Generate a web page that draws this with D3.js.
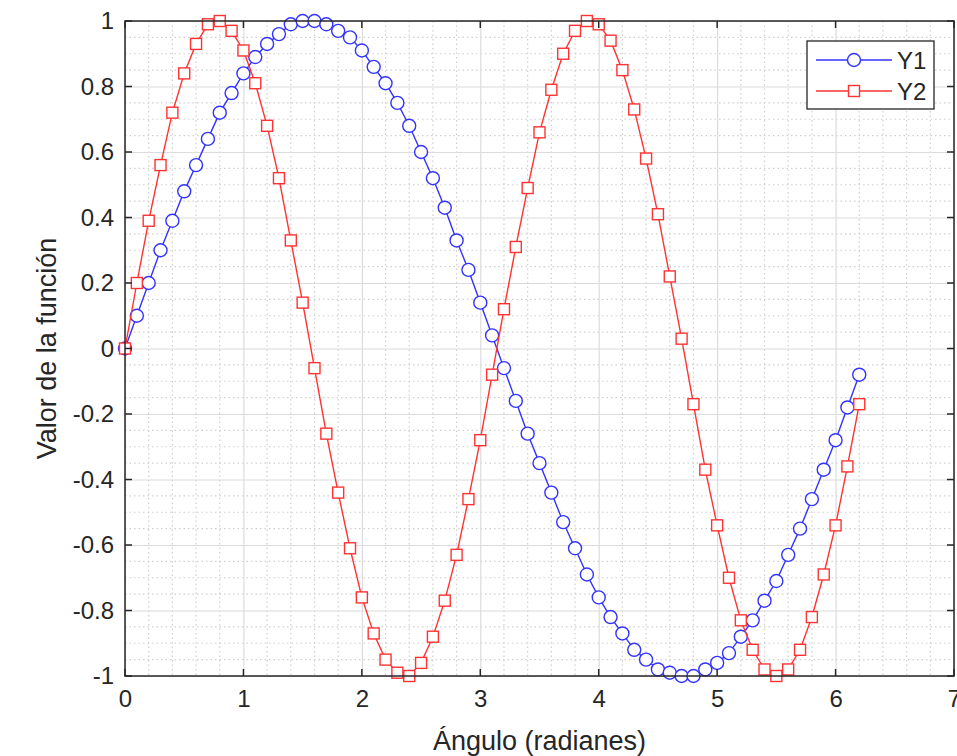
<!DOCTYPE html>
<html lang="es">
  <head>
    <meta charset="UTF-8" />
    <title>Y1 / Y2</title>
    <script src="https://d3js.org/d3.v7.min.js" charset="utf-8"></script>
    <style>
      body { margin: 0; background: #fff; }
      svg text { font-family: "Liberation Sans", Arial, sans-serif; fill: #262626; }
    </style>
  </head>
  <body>
    <div id="chart"></div>
    <script>
      // angle values (radians)
      const angles = [
        0.0, 0.1, 0.2, 0.3, 0.4, 0.5, 0.6, 0.7, 0.8, 0.9,
        1.0, 1.1, 1.2, 1.3, 1.4, 1.5, 1.6, 1.7, 1.8, 1.9,
        2.0, 2.1, 2.2, 2.3, 2.4, 2.5, 2.6, 2.7, 2.8, 2.9,
        3.0, 3.1, 3.2, 3.3, 3.4, 3.5, 3.6, 3.7, 3.8, 3.9,
        4.0, 4.1, 4.2, 4.3, 4.4, 4.5, 4.6, 4.7, 4.8, 4.9,
        5.0, 5.1, 5.2, 5.3, 5.4, 5.5, 5.6, 5.7, 5.8, 5.9,
        6.0, 6.1, 6.2
      ];
      const y1 = [
        0.00, 0.10, 0.20, 0.30, 0.39, 0.48, 0.56, 0.64, 0.72, 0.78,
        0.84, 0.89, 0.93, 0.96, 0.99, 1.00, 1.00, 0.99, 0.97, 0.95,
        0.91, 0.86, 0.81, 0.75, 0.68, 0.60, 0.52, 0.43, 0.33, 0.24,
        0.14, 0.04, -0.06, -0.16, -0.26, -0.35, -0.44, -0.53, -0.61, -0.69,
        -0.76, -0.82, -0.87, -0.92, -0.95, -0.98, -0.99, -1.00, -1.00, -0.98,
        -0.96, -0.93, -0.88, -0.83, -0.77, -0.71, -0.63, -0.55, -0.46, -0.37,
        -0.28, -0.18, -0.08
      ];
      const y2 = [
        0.00, 0.20, 0.39, 0.56, 0.72, 0.84, 0.93, 0.99, 1.00, 0.97,
        0.91, 0.81, 0.68, 0.52, 0.33, 0.14, -0.06, -0.26, -0.44, -0.61,
        -0.76, -0.87, -0.95, -0.99, -1.00, -0.96, -0.88, -0.77, -0.63, -0.46,
        -0.28, -0.08, 0.12, 0.31, 0.49, 0.66, 0.79, 0.90, 0.97, 1.00,
        0.99, 0.94, 0.85, 0.73, 0.58, 0.41, 0.22, 0.03, -0.17, -0.37,
        -0.54, -0.70, -0.83, -0.92, -0.98, -1.00, -0.98, -0.92, -0.82, -0.69,
        -0.54, -0.36, -0.17
      ];
      const xTicks = [0, 1, 2, 3, 4, 5, 6, 7];
      const yTicks = [-1, -0.8, -0.6, -0.4, -0.2, 0, 0.2, 0.4, 0.6, 0.8, 1];
      const seriesNames = ["Y1", "Y2"];

      const width = 957;
      const height = 756;
      const padL = 125, padR = 954, padT = 21, padB = 676;
      const ink = "#262626";

      const x = d3.scaleLinear().domain([0, 7]).range([padL, padR]);
      const y = d3.scaleLinear().domain([-1, 1]).range([padB, padT]);

      const svg = d3.select("#chart").append("svg")
        .attr("width", width)
        .attr("height", height);

      // minor grid (dotted)
      const grid = svg.append("g");
      grid.selectAll(".mx")
        .data(d3.range(0, 35).map(i => i * 0.2).filter(v => Math.abs(v - Math.round(v)) > 1e-6))
        .enter().append("line")
        .attr("x1", d => x(d)).attr("x2", d => x(d))
        .attr("y1", padT).attr("y2", padB)
        .attr("stroke", "#cfcfcf").attr("stroke-width", 1.2)
        .attr("stroke-dasharray", "1.5,3");
      grid.selectAll(".my")
        .data(d3.range(0, 41).map(i => -1 + i * 0.05).filter(v => Math.abs(v * 5 - Math.round(v * 5)) > 1e-6))
        .enter().append("line")
        .attr("y1", d => y(d)).attr("y2", d => y(d))
        .attr("x1", padL).attr("x2", padR)
        .attr("stroke", "#cfcfcf").attr("stroke-width", 1.2)
        .attr("stroke-dasharray", "1.5,3");

      // major grid
      const xAxisGrid = d3.axisBottom(x).tickValues(xTicks).tickSize(-(padB - padT)).tickFormat("");
      const yAxisGrid = d3.axisLeft(y).tickValues(yTicks).tickSize(-(padR - padL)).tickFormat("");
      svg.append("g").attr("transform", `translate(0,${padB})`).call(xAxisGrid)
        .call(g => g.select(".domain").remove())
        .call(g => g.selectAll("line").attr("stroke", "#dcdcdc").attr("stroke-width", 1.2));
      svg.append("g").attr("transform", `translate(${padL},0)`).call(yAxisGrid)
        .call(g => g.select(".domain").remove())
        .call(g => g.selectAll("line").attr("stroke", "#dcdcdc").attr("stroke-width", 1.2));

      // series
      const line = d3.line().x((d, i) => x(angles[i])).y(d => y(d));

      function drawSeries(vals, color, shape) {
        const g = svg.append("g");
        g.append("path").datum(vals)
          .attr("d", line)
          .attr("fill", "none")
          .attr("stroke", color)
          .attr("stroke-width", 1.4);
        const pts = vals.map((v, i) => [x(angles[i]), y(v)]);
        if (shape === "circle") {
          g.selectAll("circle").data(pts).enter().append("circle")
            .attr("cx", d => d[0]).attr("cy", d => d[1]).attr("r", 6.5)
            .attr("fill", "#fff").attr("stroke", color).attr("stroke-width", 1.4);
        } else {
          g.selectAll("rect").data(pts).enter().append("rect")
            .attr("x", d => d[0] - 5.5).attr("y", d => d[1] - 5.5)
            .attr("width", 11).attr("height", 11)
            .attr("fill", "#fff").attr("stroke", color).attr("stroke-width", 1.4);
        }
      }
      drawSeries(y1, "#3333ff", "circle");
      drawSeries(y2, "#ff3333", "square");

      // box + ticks
      svg.append("rect")
        .attr("x", padL).attr("y", padT)
        .attr("width", padR - padL).attr("height", padB - padT)
        .attr("fill", "none").attr("stroke", ink).attr("stroke-width", 1.5);

      const xAxis = d3.axisBottom(x).tickValues(xTicks).tickSize(0).tickPadding(14).tickFormat(d3.format("d"));
      const yAxis = d3.axisLeft(y).tickValues(yTicks).tickSize(0).tickPadding(11).tickFormat(d => String(+d.toFixed(1)));

      svg.append("g").attr("transform", `translate(0,${padB})`).call(xAxis)
        .call(g => g.select(".domain").remove())
        .call(g => g.selectAll("text").attr("font-size", 24).attr("fill", ink));
      svg.append("g").attr("transform", `translate(${padL},0)`).call(yAxis)
        .call(g => g.select(".domain").remove())
        .call(g => g.selectAll("text").attr("font-size", 24).attr("fill", ink));

      // inward tick marks on all four sides
      const tk = svg.append("g").attr("stroke", ink).attr("stroke-width", 1.5);
      xTicks.forEach(t => {
        tk.append("line").attr("x1", x(t)).attr("x2", x(t)).attr("y1", padB).attr("y2", padB - 7);
        tk.append("line").attr("x1", x(t)).attr("x2", x(t)).attr("y1", padT).attr("y2", padT + 7);
      });
      yTicks.forEach(t => {
        tk.append("line").attr("y1", y(t)).attr("y2", y(t)).attr("x1", padL).attr("x2", padL + 7);
        tk.append("line").attr("y1", y(t)).attr("y2", y(t)).attr("x1", padR).attr("x2", padR - 7);
      });

      // axis labels
      svg.append("text")
        .attr("x", (padL + padR) / 2).attr("y", 750)
        .attr("text-anchor", "middle").attr("font-size", 27)
        .text("Ángulo (radianes)");
      svg.append("text")
        .attr("transform", `translate(56,${(padT + padB) / 2}) rotate(-90)`)
        .attr("text-anchor", "middle").attr("font-size", 27)
        .text("Valor de la función");

      // legend
      const lg = svg.append("g");
      lg.append("rect")
        .attr("x", 807).attr("y", 41).attr("width", 127).attr("height", 68)
        .attr("fill", "#fff").attr("stroke", ink).attr("stroke-width", 1.3);
      const legendColors = ["#3333ff", "#ff3333"];
      seriesNames.forEach((name, i) => {
        const cy = 60 + i * 31;
        lg.append("line").attr("x1", 816).attr("x2", 892).attr("y1", cy).attr("y2", cy)
          .attr("stroke", legendColors[i]).attr("stroke-width", 1.4);
        if (i === 0) {
          lg.append("circle").attr("cx", 854).attr("cy", cy).attr("r", 6.5)
            .attr("fill", "#fff").attr("stroke", legendColors[i]).attr("stroke-width", 1.4);
        } else {
          lg.append("rect").attr("x", 848.5).attr("y", cy - 5.5).attr("width", 11).attr("height", 11)
            .attr("fill", "#fff").attr("stroke", legendColors[i]).attr("stroke-width", 1.4);
        }
        lg.append("text").attr("x", 897).attr("y", cy + 8.5)
          .attr("font-size", 24).text(name);
      });
    </script>
  </body>
</html>
